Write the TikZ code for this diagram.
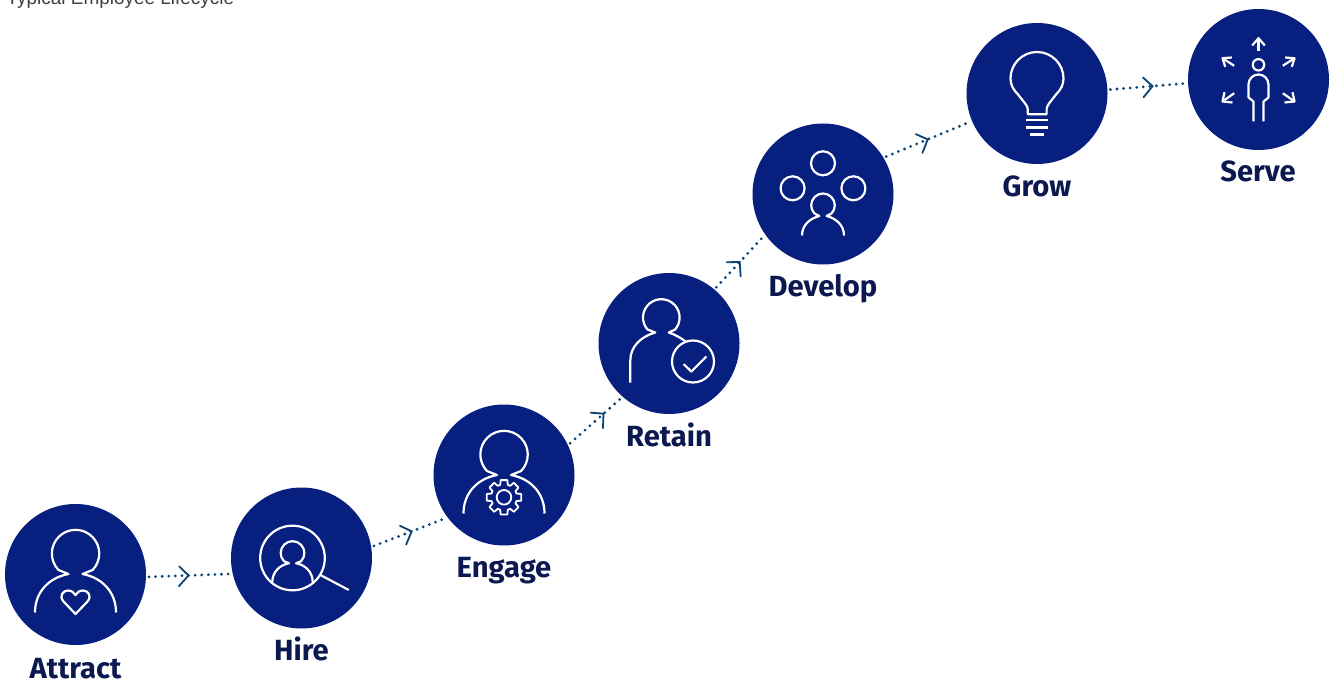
\documentclass[tikz,border=0pt]{standalone}
\usepackage{fontspec}
\setmainfont{Liberation Sans}
\newfontfamily\lblfont{Fira Sans}
\usetikzlibrary{decorations.markings}
\definecolor{disc}{HTML}{072080}
\definecolor{lbl}{HTML}{0C1850}
\definecolor{conn}{HTML}{0A4474}
\definecolor{cap}{HTML}{3F3F3F}
\tikzset{
  stage/.style={circle,fill=disc,minimum size=141pt,inner sep=0pt,outer sep=0pt},
  stagelabel/.style={anchor=base,inner sep=0pt,text=lbl,font=\lblfont\bfseries\fontsize{29.2}{31}\selectfont},
  icon/.style={draw=white,line width=2.2pt,line join=round,line cap=butt},
  link/.style={conn,line width=3.1pt,line cap=round,dash pattern=on 0pt off 6.6pt,shorten <=3pt,shorten >=1.5pt,
    postaction={decorate,decoration={markings,mark=at position #1 with
      {\draw[conn,line width=1.8pt,solid,line cap=round,line join=miter] (-11pt,11.5pt)--(0pt,0pt)--(-11pt,-11.5pt);}}}}
}
\newcommand{\drawperson}[2]{% origin, scale
  \begin{scope}[shift={#1},scale=#2]
    \draw[icon] (-40.5,38) .. controls (-40.5,17) and (-26,3) .. (-7,-0.5)
      -- (-17,-4.5) arc[start angle=136,end angle=404,radius=23.7]
      -- (7,-0.5) .. controls (26,3) and (40.5,17) .. (40.5,38);
  \end{scope}}
\begin{document}
\begin{tikzpicture}[x=1pt,y=-1pt]
\useasboundingbox (0,0) rectangle (1336,679);
\fill[white] (0,0) rectangle (1336,679);

\node[anchor=base west,inner sep=0pt,text=cap,font=\fontsize{18.95}{20}\selectfont] (title) at (6.5,4.5) {Typical Employee Lifecycle};

\node[stage] (attract) at (75.5,574.5) {};
\node[stage] (hire) at (301.5,558) {};
\node[stage] (engage) at (504,475) {};
\node[stage] (retain) at (669,343.5) {};
\node[stage] (develop) at (823,194) {};
\node[stage] (grow) at (1037,93.5) {};
\node[stage] (serve) at (1258.5,79.5) {};

\node[stagelabel] (lattract) at (75.5,678) {Attract};
\node[stagelabel] (lhire) at (301.5,660) {Hire};
\node[stagelabel] (lengage) at (504,577) {Engage};
\node[stagelabel] (lretain) at (669,446) {Retain};
\node[stagelabel] (ldevelop) at (823,296) {Develop};
\node[stagelabel] (lgrow) at (1037,196.5) {Grow};
\node[stagelabel] (lserve) at (1258,182) {Serve};

\draw[link=.49] (attract.-2.4) -- (hire.193);
\draw[link=.53] (hire.9) -- (engage.217);
\draw[link=.65] (engage.25.5) -- (retain.229);
\draw[link=.5] (retain.50.7) -- (develop.215.6);
\draw[link=.5] (develop.31) -- (grow.203);
\draw[link=.56] (grow.3) -- (serve.183.5);

% Attract
\begin{scope}[shift={(attract.center)}]
  \drawperson{(0,0)}{1}
  \draw[icon] (0,39.5) -- (-12,27) .. controls (-17,21) and (-12,16) .. (-7.5,16)
     .. controls (-4,16) and (-1.5,18) .. (0,20.5)
     .. controls (1.5,18) and (4,16) .. (7.5,16)
     .. controls (12,16) and (17,21) .. (12,27) -- cycle;
\end{scope}

% Hire
\begin{scope}[shift={(hire.center)}]
  \draw[icon] (-9,0) circle[radius=32.3];
  \drawperson{(-9,5.5)}{0.5}
  \draw[icon,line cap=round] (18.3,16.7) -- (46.7,31.7);
\end{scope}

% Engage
\begin{scope}[shift={(engage.center)}]
  \drawperson{(0,0.5)}{1}
  \begin{scope}[shift={(0,22.3)}]
    \draw[icon,line width=1.8pt] (-11:17.5)
      \foreach \a in {0,45,...,315} { -- (\a-11:17.5) -- (\a+11:17.5) -- (\a+17:13) -- (\a+28:13) }
      -- cycle;
    \draw[icon,line width=1.8pt] (0,0) circle[radius=7.3];
  \end{scope}
\end{scope}

% Retain
\begin{scope}[shift={(retain.center)}]
  \draw[icon] (-38.7,39) -- (-38.7,17) .. controls (-38.7,3) and (-28,-7) .. (-13.7,-11)
    -- (-21.5,-14) arc[start angle=139,end angle=401,radius=18.3]
    -- (-0.3,-11) .. controls (6,-9) and (11,-6) .. (16.3,-2.3);
  \draw[icon] (24,18) circle[radius=21];
  \draw[icon] (14.7,20.7) -- (22.3,28) -- (37.3,13);
\end{scope}

% Develop
\begin{scope}[shift={(develop.center)}]
  \draw[icon] (0,-30.7) circle[radius=12];
  \draw[icon] (-30.4,-5.7) circle[radius=12];
  \draw[icon] (30.4,-5.7) circle[radius=12];
  \draw[icon] (-21,41.5) .. controls (-21,31) and (-13,24.5) .. (-3.7,22)
    -- (-8.5,19.5) arc[start angle=136,end angle=404,radius=11.8]
    -- (3.7,22) .. controls (13,24.5) and (21,31) .. (21,41.5);
\end{scope}

% Grow
\begin{scope}[shift={(grow.center)}]
  \draw[icon] (-9.2,20.7) -- (-9.2,16) .. controls (-9.2,12) and (-13,9) .. (-19,1)
    .. controls (-24,-4) and (-26.5,-9) .. (-26.5,-15)
    arc[start angle=180,end angle=360,radius=26.5]
    .. controls (26.5,-9) and (24,-4) .. (19,1)
    .. controls (13,9) and (9.6,12) .. (9.6,16) -- (9.6,20.7) -- cycle;
  \draw[icon] (-11,26.7) -- (11,26.7);
  \draw[icon] (-11,34) -- (11,34);
  \draw[icon] (-6.7,41) -- (6.7,41);
\end{scope}

% Serve
\begin{scope}[shift={(serve.center)}]
  \draw[icon] (0,-14.7) circle[radius=5.7];
  \draw[icon] (-5,42) -- (-5,22) -- (-10,18) -- (-10,5) arc[start angle=180,end angle=360,radius=10] -- (10,18) -- (5,22) -- (5,42);
  \draw[icon] (0,-28.7) -- (0,-41.3);
  \draw[icon] (-6.3,-34) -- (0,-41.3) -- (6.3,-34);
  \draw[icon] (24.3,-13.7) -- (36,-21.3);
  \draw[icon] (26.7,-22) -- (36,-21.3) -- (33.3,-12.7);
  \draw[icon] (-24.3,-13.7) -- (-36,-21.3);
  \draw[icon] (-26.7,-22) -- (-36,-21.3) -- (-33.3,-12.7);
  \draw[icon] (-24.3,13.7) -- (-36,22);
  \draw[icon] (-34,12.7) -- (-36,22) -- (-26,23);
  \draw[icon] (24.3,13.7) -- (36,22);
  \draw[icon] (34,12.7) -- (36,22) -- (26,23);
\end{scope}
\end{tikzpicture}
\end{document}
